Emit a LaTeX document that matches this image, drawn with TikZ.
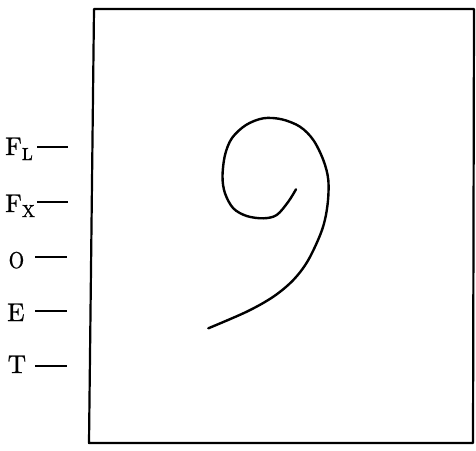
\documentclass[tikz,border=0pt]{standalone}
\usepackage{fontspec}
\newfontfamily\lblfont{lmroman10-regular}[Extension=.otf,FakeBold=0.9]
\begin{document}
\begin{tikzpicture}[x=1pt,y=-1pt,
  lbl/.style={anchor=base west,inner sep=0pt,font=\lblfont\fontsize{25.5}{30}\selectfont},
  tick/.style={line width=1.7pt},
  frame/.style={line width=2.2pt,line join=round},
  spiral/.style={line width=2.4pt,line cap=round}]
\useasboundingbox (0,0) rectangle (476,450);
% frame
\draw[frame] (94,9) -- (474,9) -- (473,443) -- (89,443) -- cycle;
% labels
\node[lbl] (fl) at (5,155) {F\raisebox{-5pt}{\fontsize{17.5}{20}\selectfont L}};
\node[lbl] (fx) at (5,212) {F\raisebox{-5pt}{\fontsize{17.5}{20}\selectfont X}};
\node[lbl] (o) at (8.5,268) {\scalebox{0.78}[0.9]{O}};
\node[lbl] (e) at (7,321) {E};
\node[lbl] (t) at (7.5,373) {T};
% ticks
\coordinate (fla) at (37,147); \coordinate (flb) at (68,147);
\coordinate (fxa) at (37,202); \coordinate (fxb) at (68,202);
\coordinate (oa) at (35,257); \coordinate (ob) at (67,257);
\coordinate (ea) at (35,311); \coordinate (eb) at (67,311);
\coordinate (ta) at (35,366); \coordinate (tb) at (67,366);
\draw[tick] (fla) -- (flb);
\draw[tick] (fxa) -- (fxb);
\draw[tick] (oa) -- (ob);
\draw[tick] (ea) -- (eb);
\draw[tick] (ta) -- (tb);
% spiral
\draw[spiral] plot[smooth, tension=0.55] coordinates {(296,189.3) (288.3,201.7) (276.7,215) (263.3,218.3) (246.7,216) (233.3,208.3) (225,193.3) (222.5,176.7) (225,155) (232,138) (246,125) (263.3,118.3) (281.7,119.3) (300,126.7) (313.3,140) (323.3,160) (328.3,180) (327.5,205) (322,230) (308.3,260) (293.3,280) (273.3,296.7) (246.7,311.7) (208.3,328.3)};
\end{tikzpicture}
\end{document}
